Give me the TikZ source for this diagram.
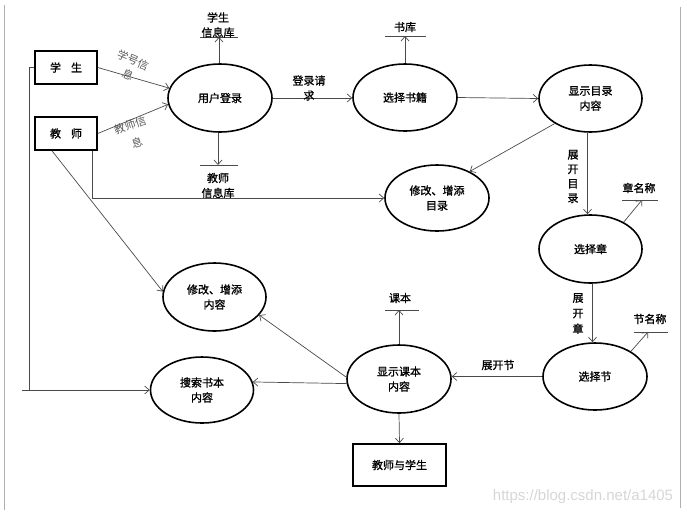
\documentclass[tikz,border=0pt]{standalone}
\usepackage{fontspec}
\newfontfamily\cjk[FakeBold=1.2]{Noto Sans CJK SC}
\newfontfamily\cjklight{Noto Sans CJK SC}
\setsansfont{Liberation Sans}
\usetikzlibrary{arrows.meta,shapes.geometric}
\definecolor{conncol}{HTML}{4A4A4A}
\definecolor{framecol}{HTML}{B0B0B0}
\definecolor{wmcol}{HTML}{D6D6D6}
\begin{document}
\begin{tikzpicture}[x=1pt,y=1pt,
  every node/.style={font=\cjk\fontsize{11}{15}\selectfont, inner sep=0pt},
  proc/.style={draw, ellipse, line width=1.6pt, align=center},
  ent/.style={draw, rectangle, line width=1.6pt, minimum width=62pt, minimum height=33pt},
  conn/.style={draw=conncol, line width=0.7pt},
  arr/.style={conn, -{Straight Barb[length=4.5pt,width=8pt]}},
  store/.style={draw=conncol, line width=0.8pt},
  lbl/.style={align=center},
  rlbl/.style={align=center, text=black!65, font=\cjklight\fontsize{11}{15}\selectfont}
]
\useasboundingbox (0,0) rectangle (687,-515);
% frame lines
\draw[framecol, line width=0.8pt] (4,-5) coordinate (fl1) -- (4,-510) coordinate (fl2);
\draw[framecol, line width=0.8pt] (680,-7) coordinate (fr1) -- (680,-508) coordinate (fr2);

% entities
\node[ent] (stu) at (66,-67.5) {学\hspace{10pt}生};
\node[ent] (tea) at (66,-133.5) {教\hspace{10pt}师};
\node[ent, minimum width=93pt, minimum height=42pt] (ts) at (399.5,-465) {教师与学生};

% processes
\node[proc, minimum width=104pt, minimum height=68pt] (login) at (220,-98) {用户登录};
\node[proc, minimum width=104pt, minimum height=67pt] (xuan) at (405,-97.5) {选择书籍};
\node[proc, minimum width=103pt, minimum height=67pt] (mulu) at (590.5,-98.5) {显示目录\\内容};
\node[proc, minimum width=104pt, minimum height=66pt] (xgml) at (437,-198) {修改、增添\\目录};
\node[proc, minimum width=103pt, minimum height=68pt] (zhang) at (590.5,-249) {选择章};
\node[proc, minimum width=104pt, minimum height=67pt] (jie) at (595,-376.5) {选择节};
\node[proc, minimum width=104pt, minimum height=68pt] (kb) at (399,-379) {显示课本\\内容};
\node[proc, minimum width=103pt, minimum height=68pt] (xgnr) at (214.5,-297) {修改、增添\\内容};
\node[proc, minimum width=103pt, minimum height=66pt] (ss) at (202,-390) {搜索书本\\内容};

% data stores
\coordinate (sdb1) at (200,-37); \coordinate (sdb2) at (238,-37);
\draw[store] (sdb1) -- (sdb2);
\node[lbl] (sdbt) at (218,-25) {学生\\信息库};
\coordinate (tdb1) at (200,-165); \coordinate (tdb2) at (238,-165);
\draw[store] (tdb1) -- (tdb2);
\node[lbl] (tdbt) at (218,-185.5) {教师\\信息库};
\coordinate (sk1) at (385,-36); \coordinate (sk2) at (426,-36);
\draw[store] (sk1) -- (sk2);
\node[lbl] (skt) at (405,-27) {书库};
\coordinate (zm1) at (622,-200); \coordinate (zm2) at (658,-200);
\draw[store] (zm1) -- (zm2);
\node[lbl] (zmt) at (639,-188) {章名称};
\coordinate (jm1) at (634,-332); \coordinate (jm2) at (668,-332);
\draw[store] (jm1) -- (jm2);
\node[lbl] (jmt) at (650,-319) {节名称};
\coordinate (kbs1) at (385,-310); \coordinate (kbs2) at (419,-310);
\draw[store] (kbs1) -- (kbs2);
\node[lbl] (kbt) at (400,-298) {课本};

% connectors
\draw[arr] (stu.east) -- (login.169);
\node[rlbl, rotate=-23] (l1a) at (133,-60) {学号信};
\node[rlbl, rotate=-23] (l1b) at (128,-75) {息};
\draw[arr] (tea.east) -- (login.187);
\node[rlbl, rotate=18] (l2a) at (130,-125) {教师信};
\node[rlbl, rotate=18] (l2b) at (137,-143) {息};

\draw[arr] ([xshift=-1pt]login.north) -- ([xshift=-1pt]login.north |- sdb1);
\draw[arr] ([xshift=-2pt]login.south) -- ([xshift=-2pt]login.south |- tdb1);

\draw[arr] (login.east) -- (xuan.west |- login.east);
\node[lbl] (l3) at (309,-88) {登录请\\求};

\draw[arr] (xuan.north) -- (xuan.north |- sk1);
\draw[arr] (xuan.east) -- (mulu.west);

\draw[arr] (mulu.215) -- (xgml.39);
\draw[arr] ([xshift=26pt]tea.south) |- (xgml.west);

\draw[arr] ([xshift=-3pt]mulu.south) -- ([xshift=-3pt]mulu.south |- zhang.north);
\node[lbl, font=\cjk\fontsize{11}{14.5}\selectfont] (l4) at (573,-176.5) {展\\开\\目\\录};

\draw[arr] (zhang.39) -- (642,-200);

\draw[arr] ([xshift=2pt]zhang.south) -- ([xshift=2pt]zhang.south |- jie.north);
\node[lbl, font=\cjk\fontsize{11}{15.5}\selectfont] (l5) at (578,-313.5) {展\\开\\章};

\draw[arr] (jie.35) -- (648,-332);

\draw[arr] (jie.west) -- (kb.east |- jie.west);
\node[lbl] (l6) at (498,-365) {展开节};

\draw[arr] (kb.north) -- (kb.north |- kbs1);
\draw[arr] (kb.south) -- (ts.north);

\draw[arr] (kb.178) -- (xgnr.-22);
\draw[arr] (kb.185.5) -- (ss.9);

\draw[arr] ([xshift=-14pt]tea.south) -- (xgnr.174);

\draw[conn] (stu.west) -- ++(-5,0) coordinate (lc) -- (lc |- ss.west);
\draw[arr] ([xshift=-7pt]lc |- ss.west) -- (ss.west);

% watermark
\node[font=\sffamily\fontsize{15}{17}\selectfont, text=wmcol] (wm) at (583,-497) {https://blog.csdn.net/a1405};
\end{tikzpicture}
\end{document}
